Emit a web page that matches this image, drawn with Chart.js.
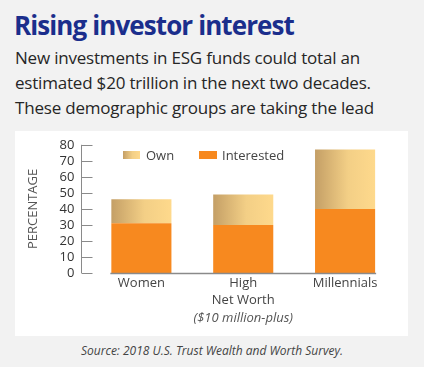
<!DOCTYPE html>
<html>
<head>
<meta charset="utf-8">
<script src="https://cdn.jsdelivr.net/npm/chart.js@4"></script>
<style>
  body { margin: 0; background: #f2f2f2; width: 424px; height: 367px; overflow: hidden; position: relative; font-family: "Open Sans", sans-serif; }
  .title { position: absolute; left: 14px; top: 9px; font-size: 26px; font-weight: 700; color: #1b2e8c; letter-spacing: -0.9px; line-height: 32px; white-space: nowrap; }
  .sub { position: absolute; left: 15px; top: 45px; font-size: 17px; color: #262626; line-height: 25px; letter-spacing: -0.2px; white-space: nowrap; }
  .panel { position: absolute; left: 15px; top: 131px; width: 393px; height: 205px; background: #fff; }
  .plot { position: absolute; left: 15px; top: 121px; width: 393px; height: 215px; }
  .legend { position: absolute; font-size: 13px; color: #444; line-height: 16px; }
  .sw { position: absolute; height: 8px; }
  .source { position: absolute; left: 0; width: 424px; top: 343px; text-align: center; font-size: 12px; font-style: italic; color: #444; line-height: 16px; }
</style>
</head>
<body>
<div class="title">Rising investor interest</div>
<div class="sub">New investments in ESG funds could total an<br>estimated $20 trillion in the next two decades.<br>These demographic groups are taking the lead</div>
<div class="panel"></div>
<div class="plot"><canvas id="esgChart"></canvas></div>
<div class="sw" style="left:123px;top:151px;width:17px;background:linear-gradient(to right,#c49f66,#f3cf86 55%,#fed98c);"></div>
<div class="legend" style="left:146px;top:147px;">Own</div>
<div class="sw" style="left:199px;top:151px;width:18px;background:#f7891f;"></div>
<div class="legend" style="left:222px;top:147px;">Interested</div>
<div class="source">Source: 2018 U.S. Trust Wealth and Worth Survey.</div>
<script>
const categories = [['Women'], ['High', 'Net Worth'], ['Millennials']]
const subLabels = ['', '($10 million-plus)', '']
const interested = [31, 30, 40]
const own = [15, 19, 37]
const yMax = 80
const yStep = 10

const barShare = 0.59

function ownGradient(ctx){
    if (ctx.type !== 'data') return '#f3cf86'
    const chart = ctx.chart
    const xs = chart.scales.x
    if (!xs) return '#f3cf86'
    const c = xs.getPixelForValue(ctx.dataIndex)
    const half = xs.width / categories.length * barShare / 2
    if (!isFinite(c) || !isFinite(half)) return '#f3cf86'
    const g = chart.ctx.createLinearGradient(c - half, 0, c + half, 0)
    g.addColorStop(0, '#c49f66')
    g.addColorStop(0.55, '#f3cf86')
    g.addColorStop(1, '#fed98c')
    return g
}

// axis lines, inward ticks and the italic third line under "High Net Worth"
const axisDecor = {
    id: 'axisDecor',
    afterDraw(chart){
        const ctx = chart.ctx
        const xs = chart.scales.x
        const ys = chart.scales.y
        const area = chart.chartArea
        ctx.save()
        ctx.strokeStyle = '#8a8a8a'
        ctx.lineWidth = 1
        const ax = Math.round(area.left - 9) + 0.5
        ctx.beginPath()
        ctx.moveTo(ax, ys.getPixelForValue(yMax))
        ctx.lineTo(ax, ys.getPixelForValue(0))
        for (let v = 0; v <= yMax; v += yStep) {
            const y = Math.round(ys.getPixelForValue(v)) + 0.5
            ctx.moveTo(ax, y)
            ctx.lineTo(ax + 11, y)
        }
        ctx.stroke()

        const bars = chart.getDatasetMeta(0).data
        const first = bars[0], last = bars[bars.length - 1]
        const y0 = ys.getPixelForValue(0) + 0.5
        ctx.lineWidth = 1.5
        ctx.beginPath()
        ctx.moveTo(first.x - first.width / 2 - 1, y0)
        ctx.lineTo(last.x + last.width / 2 + 1, y0)
        ctx.stroke()

        ctx.font = 'italic 13px "Open Sans"'
        ctx.fillStyle = '#555'
        ctx.textAlign = 'center'
        ctx.textBaseline = 'middle'
        subLabels.forEach((s, i) => {
            if (s) ctx.fillText(s, xs.getPixelForValue(i), xs.top + 2 + 17 * 2 + 9)
        })
        ctx.restore()
    }
}

const data = {
    labels: categories,
    datasets: [{
        label: 'Interested',
        backgroundColor: '#f7891f',
        data: interested,
    }, {
        label: 'Own',
        backgroundColor: ownGradient,
        data: own,
    }]
}

const config = {
    type: 'bar',
    data: data,
    options: {
        responsive: true,
        maintainAspectRatio: false,
        animation: false,
        layout: {
            padding: { left: 0, right: 12, top: 6, bottom: 25 }
        },
        datasets: {
            bar: { categoryPercentage: 1, barPercentage: barShare }
        },
        scales: {
            x: {
                stacked: true,
                grid: { display: false, drawTicks: false },
                border: { display: false },
                ticks: {
                    padding: 2,
                    color: '#444',
                    font: { family: 'Open Sans', size: 13, lineHeight: 17 / 13 },
                    maxRotation: 0
                }
            },
            y: {
                stacked: true,
                min: 0,
                max: yMax,
                grid: { display: false, drawTicks: false },
                border: { display: false },
                ticks: {
                    stepSize: yStep,
                    autoSkip: false,
                    padding: 16,
                    color: '#333',
                    font: { family: 'Open Sans', size: 13 }
                },
                title: {
                    display: true,
                    text: 'PERCENTAGE',
                    color: '#555',
                    font: { family: 'Open Sans', size: 13 },
                    padding: { top: 10, bottom: 3 }
                }
            }
        },
        plugins: {
            legend: { display: false },
            tooltip: { enabled: false }
        }
    },
    plugins: [axisDecor]
}

const myChart = new Chart(
    document.getElementById('esgChart'),
    config
)
</script>
</body>
</html>
